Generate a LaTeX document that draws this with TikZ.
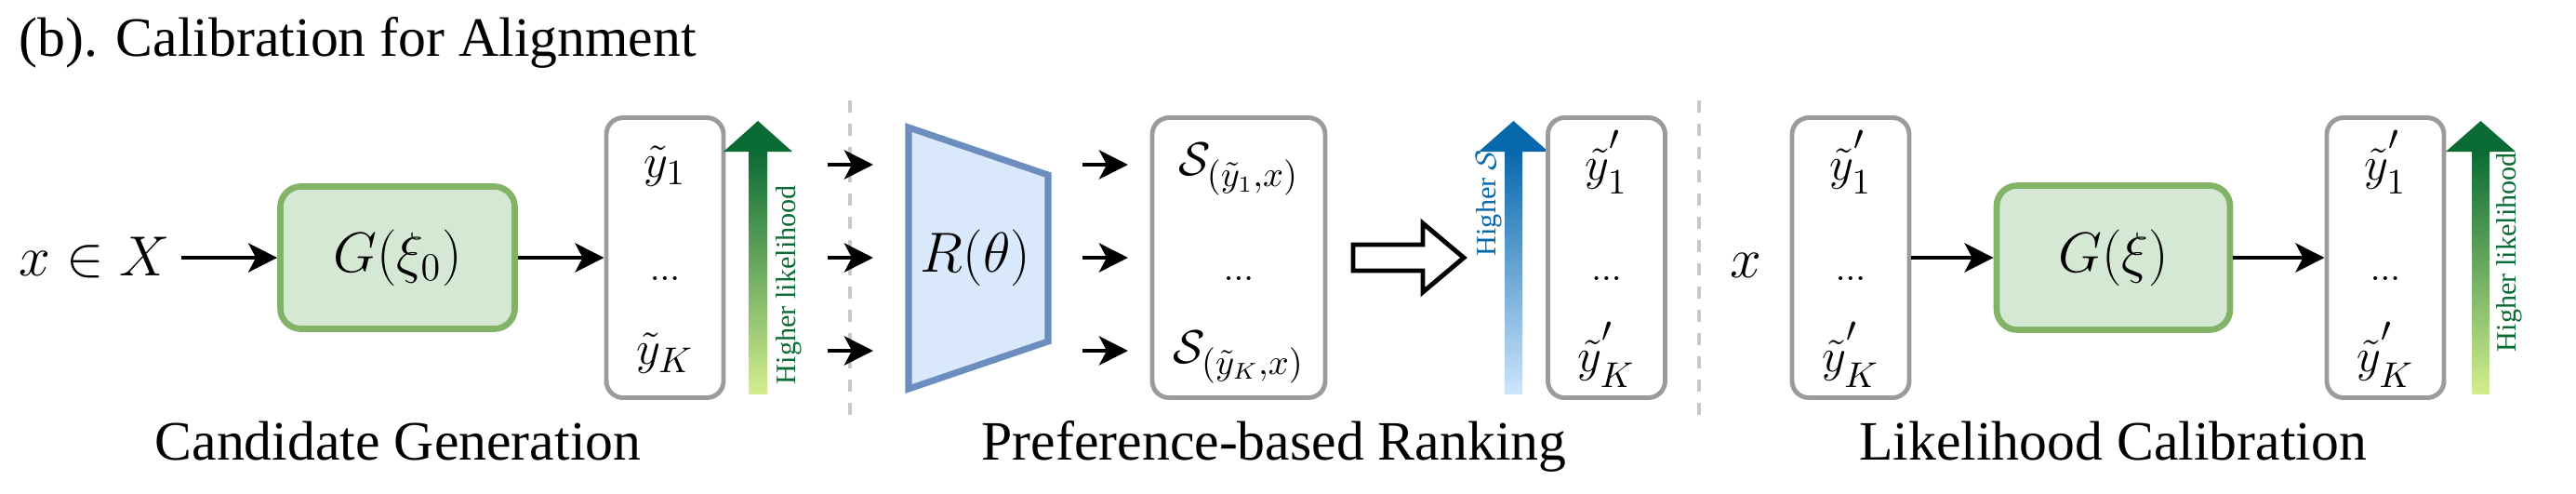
\documentclass[tikz,border=0pt]{standalone}
\usepackage{amsmath}
\usepackage{amssymb}
\usepackage{fontspec}
\setmainfont{Liberation Serif}
\usetikzlibrary{calc}
\usetikzlibrary{arrows.meta}

\definecolor{genfill}{HTML}{D5E8D4}
\definecolor{gendraw}{HTML}{82B366}
\definecolor{rewfill}{HTML}{DAE8FC}
\definecolor{rewdraw}{HTML}{6C8EBF}
\definecolor{listdraw}{HTML}{9B9B9B}
\definecolor{sepgray}{HTML}{C8C8C8}
\definecolor{likedark}{HTML}{0B6B35}
\definecolor{likelight}{HTML}{D3EE8E}
\definecolor{scoredark}{HTML}{0868AC}
\definecolor{scorelight}{HTML}{CDE5FB}

\newcommand{\ypr}[1]{\tilde{y}^{{}^{\scriptstyle\prime}}_{#1}}

\begin{document}
\begin{tikzpicture}[x=1cm,y=1cm]
    \tikzset{
      lab/.style={font=\fontsize{17}{20}\selectfont},
      model/.style={draw=gendraw, fill=genfill, line width=1.9pt, rounded corners=0.22cm,
        minimum width=2.52cm, minimum height=1.53cm, font=\fontsize{17}{20}\selectfont},
      listbox/.style={draw=listdraw, line width=1.4pt, rounded corners=0.18cm,
        minimum width=1.26cm, minimum height=3.01cm},
      item/.style={font=\fontsize{15}{18}\selectfont, inner sep=0pt},
      dots/.style={font=\fontsize{11}{13}\selectfont, inner sep=0pt},
      arr/.style={line width=1.4pt, -{Stealth[length=3.1mm,width=3.1mm,inset=0.8mm]}},
      sep/.style={sepgray, line width=1.2pt, dash pattern=on 0.13cm off 0.12cm},
      rank/.style={font=\fontsize{8.6}{10}\selectfont, rotate=90, inner sep=0pt}
    }
    \useasboundingbox (0,0) rectangle (27.7,5.3);

    \node[lab, anchor=base west] (title) at (0.08,4.70) {(b). Calibration for Alignment};

    \node[lab, anchor=base] (input) at (1.02,2.34) {$x \in X$};
    \node[model] (gen0) at (4.275,2.53) {$G(\xi_0)$};
    \node[listbox] (cand) at (7.15,2.53) {};
    \node[item] (cand1) at ($(cand.north)+(0,-0.55)$) {$\tilde{y}_1$};
    \node[dots] (cand2) at ($(cand.center)+(0,-0.22)$) {$...$};
    \node[item] (cand3) at ($(cand.south)+(0,0.50)$) {$\tilde{y}_K$};
    \draw[arr] (input.east |- gen0) -- (gen0.west);
    \draw[arr] (gen0) -- (cand);

    \shade[bottom color=likelight, top color=likedark] (8.05,1.07) rectangle (8.25,3.67);
    \fill[likedark] (7.78,3.67) -- (8.52,3.67) -- (8.15,4.00) -- cycle;
    \node[rank, likedark] (up1) at (8.485,2.24) {Higher likelihood};

    \draw[sep] (9.14,4.22) -- (9.14,0.80);

    \coordinate (T1) at (9.77,3.93);
    \coordinate (T2) at (11.27,3.42);
    \coordinate (T3) at (11.27,1.63);
    \coordinate (T4) at (9.77,1.12);
    \draw[draw=rewdraw, fill=rewfill, line width=2pt] (T1) -- (T2) -- (T3) -- (T4) -- cycle;
    \node[lab] (rew) at (10.49,2.53) {$R(\theta)$};

    \node[listbox, minimum width=1.86cm] (scr) at (13.32,2.53) {};
    \node[item] (scr1) at ($(scr.north)+(0,-0.58)$) {$\mathcal{S}_{(\tilde{y}_1,x)}$};
    \node[dots] (scr2) at ($(scr.center)+(0,-0.22)$) {$...$};
    \node[item] (scr3) at ($(scr.south)+(0,0.46)$) {$\mathcal{S}_{(\tilde{y}_K,x)}$};

    \foreach \n/\yy in {1/3.53,2/2.53,3/1.53}{
      \coordinate (ina\n) at (8.90,\yy);
      \coordinate (inb\n) at (9.39,\yy);
      \coordinate (outa\n) at (11.64,\yy);
      \coordinate (outb\n) at (12.13,\yy);
      \draw[arr] (ina\n) -- (inb\n);
      \draw[arr] (outa\n) -- (outb\n);
    }

    \draw[line width=1.4pt, fill=white] (14.55,2.67) -- (15.30,2.67) -- (15.30,2.90) -- (15.74,2.53)
      -- (15.30,2.16) -- (15.30,2.39) -- (14.55,2.39) -- cycle;

    \shade[bottom color=scorelight, top color=scoredark] (16.18,1.07) rectangle (16.37,3.67);
    \fill[scoredark] (15.90,3.67) -- (16.65,3.67) -- (16.275,4.00) -- cycle;
    \node[rank, scoredark] (up2) at (16.01,3.115) {Higher $\mathcal{S}$};

    \node[listbox] (rnk) at (17.275,2.53) {};
    \node[item] (rnk1) at ($(rnk.north)+(0,-0.50)$) {$\ypr{1}$};
    \node[dots] (rnk2) at ($(rnk.center)+(0,-0.22)$) {$...$};
    \node[item] (rnk3) at ($(rnk.south)+(0,0.49)$) {$\ypr{K}$};

    \draw[sep] (18.27,4.22) -- (18.27,0.80);

    \node[lab, anchor=base] (query) at (18.77,2.32) {$x$};
    \node[listbox] (rin) at (19.90,2.53) {};
    \node[item] (rin1) at ($(rin.north)+(0,-0.50)$) {$\ypr{1}$};
    \node[dots] (rin2) at ($(rin.center)+(0,-0.22)$) {$...$};
    \node[item] (rin3) at ($(rin.south)+(0,0.49)$) {$\ypr{K}$};
    \node[model, minimum width=2.51cm, minimum height=1.55cm] (gen1) at (22.725,2.53) {$G(\xi)$};
    \node[listbox] (rout) at (25.65,2.53) {};
    \node[item] (rout1) at ($(rout.north)+(0,-0.50)$) {$\ypr{1}$};
    \node[dots] (rout2) at ($(rout.center)+(0,-0.22)$) {$...$};
    \node[item] (rout3) at ($(rout.south)+(0,0.49)$) {$\ypr{K}$};
    \draw[arr] (rin) -- (gen1);
    \draw[arr] (gen1) -- (rout);

    \shade[bottom color=likelight, top color=likedark] (26.58,1.07) rectangle (26.77,3.67);
    \fill[likedark] (26.30,3.67) -- (27.05,3.67) -- (26.675,4.00) -- cycle;
    \node[rank, likedark] (up3) at (26.985,2.59) {Higher likelihood};

    \node[lab, anchor=base] (stage1) at (4.28,0.36) {Candidate Generation};
    \node[lab, anchor=base] (stage2) at (13.70,0.36) {Preference-based Ranking};
    \node[lab, anchor=base] (stage3) at (22.72,0.36) {Likelihood Calibration};
\end{tikzpicture}
\end{document}
